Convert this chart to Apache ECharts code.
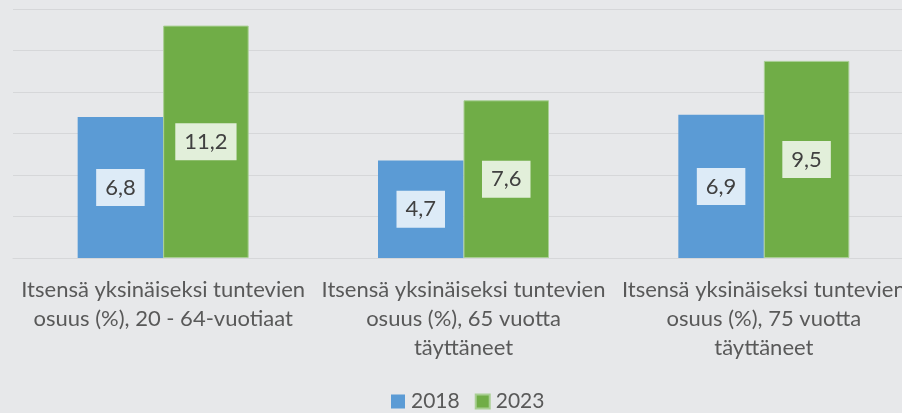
<!DOCTYPE html>
<html><head><meta charset="utf-8">
<script src="https://cdn.jsdelivr.net/npm/echarts@6/dist/echarts.min.js"></script>
<style>html,body{margin:0;padding:0;background:#e7e8ea;}#c{width:902px;height:413px;}</style>
</head><body><div id="c"></div>
<script>
const categories = [
  "Itsensä yksinäiseksi tuntevien\nosuus (%), 20 - 64-vuotiaat",
  "Itsensä yksinäiseksi tuntevien\nosuus (%), 65 vuotta\ntäyttäneet",
  "Itsensä yksinäiseksi tuntevien\nosuus (%), 75 vuotta\ntäyttäneet"
];
const values2018 = [6.8, 4.7, 6.9];
const values2023 = [11.2, 7.6, 9.5];
const seriesNames = ["2018", "2023"];

const FONT = "Lato";
const chart = echarts.init(document.getElementById('c'), null, {renderer: 'canvas'});
function lbl(bg) {
  return {
    show: true, position: 'inside', fontFamily: FONT, fontSize: 22, color: '#404040',
    backgroundColor: bg, padding: [8, 9, 7, 9],
    formatter: p => String(p.value).replace('.', ',')
  };
}
chart.setOption({
  backgroundColor: '#e7e8ea',
  animation: false,
  grid: {left: 13, width: 901, top: 9, height: 249, outerBoundsMode: 'none', containLabel: false},
  xAxis: {
    type: 'category', data: categories,
    axisLine: {lineStyle: {color: '#d6d7d9', width: 1}},
    axisTick: {show: false},
    axisLabel: {interval: 0, fontFamily: FONT, fontSize: 22, color: '#595959', lineHeight: 29, margin: 17}
  },
  yAxis: {
    type: 'value', min: 0, max: 12, interval: 2,
    axisLabel: {show: false}, axisLine: {show: false}, axisTick: {show: false},
    splitLine: {lineStyle: {color: '#d6d7d9', width: 1}}
  },
  legend: {
    left: 391, top: 391, padding: 0, itemWidth: 14, itemHeight: 14, itemGap: 15,
    textStyle: {fontFamily: FONT, fontSize: 21, color: '#595959', padding: [0,0,0,1]},
    icon: 'rect',
    data: seriesNames
  },
  series: [
    {name: seriesNames[0], type: 'bar', data: values2018, barWidth: 85.5, barGap: '0%',
     itemStyle: {color: '#5b9bd5'}, label: lbl('#ddebf7')},
    {name: seriesNames[1], type: 'bar', data: values2023, barWidth: 85.5, barGap: '0%',
     itemStyle: {color: '#70ad47', borderColor: '#a9cf94', borderWidth: 1}, label: lbl('#e2efda')}
  ]
});
</script></body></html>
